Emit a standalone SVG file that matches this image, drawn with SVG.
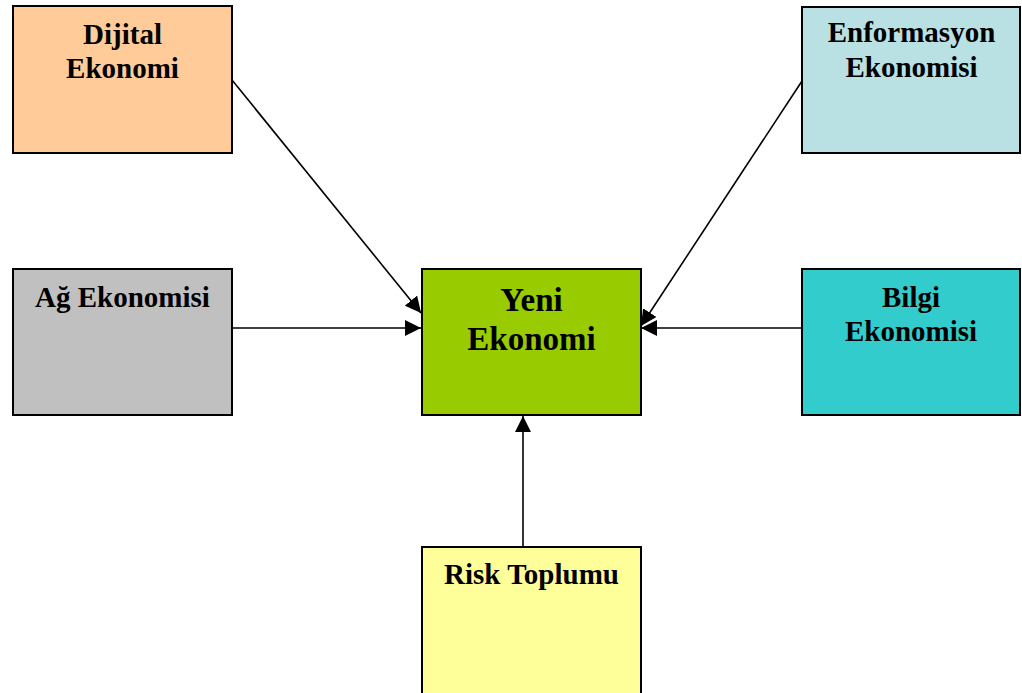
<svg xmlns="http://www.w3.org/2000/svg" width="1022" height="693" viewBox="0 0 1022 693">
<style>
.box{stroke:#000;stroke-width:2}
.t{font-family:"Liberation Serif","Times New Roman",serif;font-weight:bold;font-size:29px;fill:#000;text-anchor:middle}
.tb{font-size:33px}
.c{stroke:#000;stroke-width:1.6;fill:none;marker-end:url(#ah)}
</style>
<defs>
<marker id="ah" markerUnits="userSpaceOnUse" markerWidth="17" markerHeight="16" refX="16" refY="8" orient="auto">
<path d="M0,0 L16,8 L0,16 z" fill="#000"/>
</marker>
</defs>
<rect width="1022" height="693" fill="#fff"/>
<g id="connectors">
<line class="c" x1="232" y1="80" x2="421" y2="313"/>
<line class="c" x1="232" y1="328" x2="421" y2="328"/>
<line class="c" x1="802" y1="81" x2="641" y2="326"/>
<line class="c" x1="802" y1="328" x2="641" y2="328"/>
<line class="c" x1="523" y1="547" x2="523" y2="416"/>
</g>
<g id="dijital">
<rect class="box" x="13" y="6" width="219" height="147" fill="#FFCC99"/>
<text class="t" x="122.5" y="44">Dijital</text>
<text class="t" x="122.5" y="78">Ekonomi</text>
</g>
<g id="enformasyon">
<rect class="box" x="802" y="7" width="218" height="146" fill="#B9E0E3"/>
<text class="t" x="911.5" y="42">Enformasyon</text>
<text class="t" x="911.5" y="77">Ekonomisi</text>
</g>
<g id="ag">
<rect class="box" x="13" y="269" width="219" height="146" fill="#C0C0C0"/>
<text class="t" x="122.5" y="307">Ağ Ekonomisi</text>
</g>
<g id="yeni">
<rect class="box" x="422" y="269" width="219" height="146" fill="#99CC00"/>
<text class="t tb" x="531.5" y="311">Yeni</text>
<text class="t tb" x="531.5" y="350">Ekonomi</text>
</g>
<g id="bilgi">
<rect class="box" x="802" y="269" width="218" height="146" fill="#33CCCC"/>
<text class="t" x="911" y="307">Bilgi</text>
<text class="t" x="911" y="341">Ekonomisi</text>
</g>
<g id="risk">
<rect class="box" x="422" y="547" width="219" height="150" fill="#FFFF99"/>
<text class="t" x="531.5" y="584">Risk Toplumu</text>
</g>
</svg>
